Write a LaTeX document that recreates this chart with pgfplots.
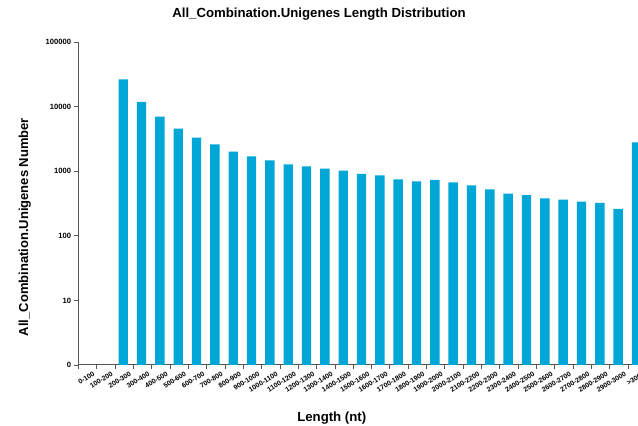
\documentclass[border=0pt]{standalone}
\usepackage{fontspec}
\setmainfont{Liberation Sans}
\usepackage{pgfplots}
\pgfplotsset{compat=1.18}
\usepackage{pgfplotstable}

\definecolor{barblue}{RGB}{0,166,214}
\definecolor{axisgray}{RGB}{85,85,85}

% Unigene counts per length bin (bins 0-100 and 100-200 are empty)
\pgfplotstableread{
pos    count
2.45   26500
3.45   11800
4.45   6980
5.45   4550
6.45   3300
7.45   2610
8.45   2005
9.45   1700
10.45  1473
11.45  1280
12.45  1190
13.45  1093
14.45  1018
15.45  905
16.45  864
17.45  749
18.45  697
19.45  731
20.45  673
21.45  604
22.45  524
23.45  449
24.45  428
25.45  380
26.45  362
27.45  337
28.45  322
29.45  260
30.45  2800
}\lengthdist

\begin{document}
\begin{tikzpicture}
\useasboundingbox (0,0) rectangle (638pt,426pt);
\clip (0,0) rectangle (638pt,426pt);
\begin{axis}[
  at={(78.3pt,61pt)}, anchor=south west,
  scale only axis,
  width=568.3pt, height=323pt,
  ymode=log,
  ymin=1, ymax=100000,
  xmin=0, xmax=31,
  axis x line*=bottom,
  axis y line*=left,
  axis line style={draw=axisgray, line width=1pt},
  tick style={draw=axisgray, line width=0.9pt},
  tick align=outside,
  ytick={1,10,100,1000,10000,100000},
  yticklabels={0,10,100,1000,10000,100000},
  yminorticks=false,
  major tick length=4pt,
  xtick={0.45,1.45,...,30.45},
  xticklabels={0-100,100-200,200-300,300-400,400-500,500-600,600-700,700-800,800-900,900-1000,1000-1100,1100-1200,1200-1300,1300-1400,1400-1500,1500-1600,1600-1700,1700-1800,1800-1900,1900-2000,2000-2100,2100-2200,2200-2300,2300-2400,2400-2500,2500-2600,2600-2700,2700-2800,2800-2900,2900-3000,>3000},
  x tick style={draw=none},
  minor xtick={0,1,...,31},
  minor x tick style={draw=axisgray, line width=0.9pt},
  minor tick length=4pt,
  xticklabel style={font=\bfseries\fontsize{6.9}{7}\selectfont, rotate=32, anchor=north east, inner sep=0pt, xshift=4pt, yshift=-5pt},
  yticklabel style={font=\bfseries\fontsize{7.6}{8}\selectfont, inner sep=1pt, xshift=-2pt},
  title={All\_Combination.Unigenes Length Distribution},
  title style={font=\bfseries\fontsize{13.2}{15}\selectfont, at={(axis description cs:0.4235,1.068)}, anchor=center},
  xlabel={Length (nt)},
  xlabel style={font=\bfseries\fontsize{13.2}{15}\selectfont, at={(axis description cs:0.446,-0.164)}, anchor=center},
  ylabel={All\_Combination.Unigenes Number},
  ylabel style={font=\bfseries\fontsize{13}{15}\selectfont, at={(axis description cs:-0.094,0.427)}, anchor=center, rotate=0},
  clip=false,
]
\addplot[ybar, bar width=9.4pt, bar shift=0pt, fill=barblue, draw=none]
  table[x=pos, y=count] {\lengthdist};
\end{axis}
\end{tikzpicture}
\end{document}
